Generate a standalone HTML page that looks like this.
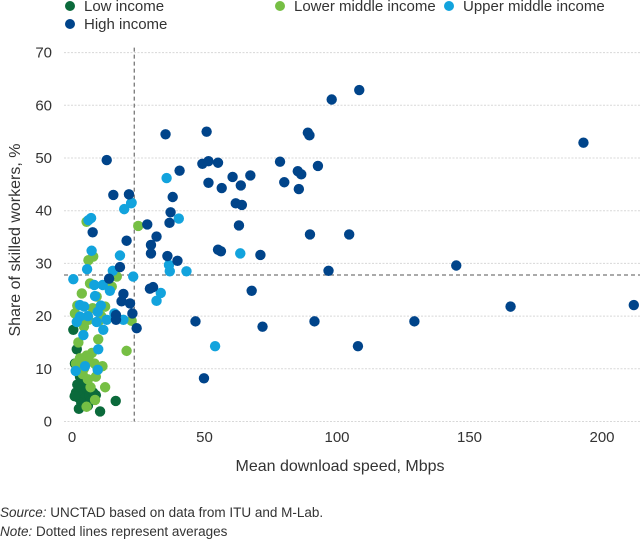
<!DOCTYPE html>
<html><head><meta charset="utf-8"><style>
body{margin:0;background:#fff;width:640px;height:539px;overflow:hidden;font-family:"Liberation Sans",sans-serif;}
svg text{font-family:"Liberation Sans",sans-serif;}
</style></head><body>
<svg id="chart" width="640" height="539" viewBox="0 0 640 539" xmlns="http://www.w3.org/2000/svg">
<g id="legend"></g>
<g id="grid"></g>
<g id="avg"></g>
<g id="pts"></g>
<g id="axes"></g>
<text transform="translate(20,240) rotate(-90)" text-anchor="middle" font-size="16" fill="#333">Share of skilled workers, %</text>
<text x="340" y="471" text-anchor="middle" font-size="16" fill="#333">Mean download speed, Mbps</text>
<text x="0" y="517" font-size="13.5" fill="#333"><tspan font-style="italic">Source:</tspan> UNCTAD based on data from ITU and M-Lab.</text>
<text x="0" y="536" font-size="13.5" fill="#333"><tspan font-style="italic">Note:</tspan> Dotted lines represent averages</text>
</svg>
<script>
const xTicks=[0,50,100,150,200];
const yTicks=[0,10,20,30,40,50,60,70];
const avgX=23.5;
const avgY=27.8;
const groupNames=["Low income","Lower middle income","Upper middle income","High income"];
const lowIncome=[[1.8,13.7],[0.5,17.4],[1.1,11],[1.5,5.5],[2.5,4.5],[3,6],[4,5],[5,4.5],[5.5,6.2],[6.5,5],[7,4],[8,5.5],[3.5,3.5],[2.6,2.4],[10.6,1.9],[16.5,3.9],[2,7],[4.5,7.5],[6,3],[9,5],[1,4.8],[3,8.5]];
const lowerMiddle=[[5.5,37.9],[6.2,30.6],[8,31.3],[6.8,26.2],[3.7,24.3],[16.9,27.5],[15,25.6],[9.3,23.7],[1.1,20.5],[6.2,19.3],[9.9,15.6],[2.4,15],[20.6,13.4],[25,37.1],[22.5,19.1],[1.5,11],[3,12],[4.5,10],[5.5,12.5],[6.5,11.5],[7.5,13],[8.5,11],[10,10],[11.5,10.5],[4,9],[3,10.5],[12.5,6.5],[8.7,4.1],[5.5,2.8],[7,6.5],[2,22],[10,19],[4.5,18],[3,19.5],[7.8,21.5],[11,20],[12.5,21.8],[6,8],[9,8.5]];
const upperMiddle=[[6.2,38.2],[7.2,38.6],[19.7,40.3],[22.3,41.4],[7.4,32.4],[18.1,31.5],[5.7,28.9],[0.5,27],[15.4,28.6],[23.1,27.5],[8.4,25.9],[11.6,25.9],[14.3,24.8],[8.7,23.8],[3,22.1],[4.6,21.8],[10.9,22],[9.7,20.8],[3,19.9],[1.8,18.9],[9.3,18.9],[13.1,19.3],[19.4,19.3],[11.8,17.4],[4.3,16.4],[9.9,13.7],[1.4,9.6],[4.9,10.5],[9.7,9.8],[35.7,46.2],[40.3,38.5],[36.6,29.7],[36.9,28.5],[43.2,28.5],[33.5,24.4],[31.9,22.9],[63.5,31.9],[54,14.3],[22.5,41.5],[16,20.5],[6,20]];
const highIncome=[[13.1,49.6],[15.6,43],[21.5,43.1],[7.8,35.9],[20.6,34.3],[18.1,29.3],[14,27.1],[19.4,24.2],[18.7,22.8],[21.9,22.4],[16.6,20.2],[16.6,19.3],[24.4,17.7],[28.4,37.4],[35.3,54.5],[50.8,55],[49.2,48.9],[51.5,49.4],[55.1,49.1],[40.6,47.6],[51.5,45.3],[56.5,44.3],[60.6,46.4],[67.3,46.7],[63.7,44.8],[38,42.6],[78.5,49.3],[80.1,45.4],[85.6,44.1],[85.2,47.5],[86.5,46.9],[92.8,48.5],[89,54.8],[89.6,54.3],[98,61.1],[108.4,62.9],[193,52.9],[37.2,39.7],[36.8,37.7],[31.9,35.1],[29.8,33.5],[29.8,31.9],[36,31.4],[39.8,30.5],[61.8,41.4],[64.1,41.1],[63,37.2],[55.1,32.6],[56.2,32.3],[71.1,31.6],[89.8,35.5],[104.6,35.5],[96.8,28.6],[145,29.6],[165.5,21.8],[212,22.1],[129.2,19],[107.9,14.3],[29.4,25.2],[30.6,25.5],[67.8,24.8],[46.6,19],[71.9,18],[91.5,19],[49.8,8.2],[22.8,20.5]];
const colors=["#0b6a3b","#76bf44","#12a3dd","#00448a"];
const NS="http://www.w3.org/2000/svg";
const X0=72,XS=2.65,Y0=421.5,YS=5.27;
function sx(v){return X0+v*XS;}
function sy(v){return Y0-v*YS;}
function mk(tag,attrs,parent){const e=document.createElementNS(NS,tag);for(const k in attrs)e.setAttribute(k,attrs[k]);parent.appendChild(e);return e;}
const grid=document.getElementById('grid'),axes=document.getElementById('axes');
yTicks.forEach(t=>{
  const l=mk('line',{x1:64,x2:640,y1:sy(t),y2:sy(t),stroke:'#d8d8d8','stroke-width':1,'stroke-dasharray':'2,1.5'},grid);
  
  
  const tx=mk('text',{x:52,y:sy(t)+5,'text-anchor':'end','font-size':15,fill:'#333'},axes);
  tx.textContent=t;
  
  
});
xTicks.forEach(t=>{
  const tx=mk('text',{x:sx(t),y:442,'text-anchor':'middle','font-size':15,fill:'#333'},axes);
  tx.textContent=t;
  
  
});
const avg=document.getElementById('avg');
const va=mk('line',{x1:sx(avgX),x2:sx(avgX),y1:sy(70)-5,y2:Y0,stroke:'#777','stroke-width':1.3,'stroke-dasharray':'4,3'},avg);


const ha=mk('line',{x1:64,x2:640,y1:sy(avgY),y2:sy(avgY),stroke:'#777','stroke-width':1.3,'stroke-dasharray':'4,3'},avg);


const pts=document.getElementById('pts');
[lowIncome,lowerMiddle,upperMiddle,highIncome].forEach((arr,gi)=>{
  arr.forEach(p=>{
    const c=mk('circle',{cx:sx(p[0]),cy:sy(p[1]),r:5.2,fill:colors[gi]},pts);
    
    
  });
});
const leg=document.getElementById('legend');
const legPos=[[70,11],[280,11],[449,11],[70,29]];
groupNames.forEach((n,i)=>{
  const c=mk('circle',{cx:legPos[i][0],cy:legPos[i][1]-5,r:5,fill:colors[i]},leg);
  
  
  const t=mk('text',{x:legPos[i][0]+14,y:legPos[i][1],'font-size':15,fill:'#333'},leg);
  t.textContent=n;
  
  
});
</script>
</body></html>
